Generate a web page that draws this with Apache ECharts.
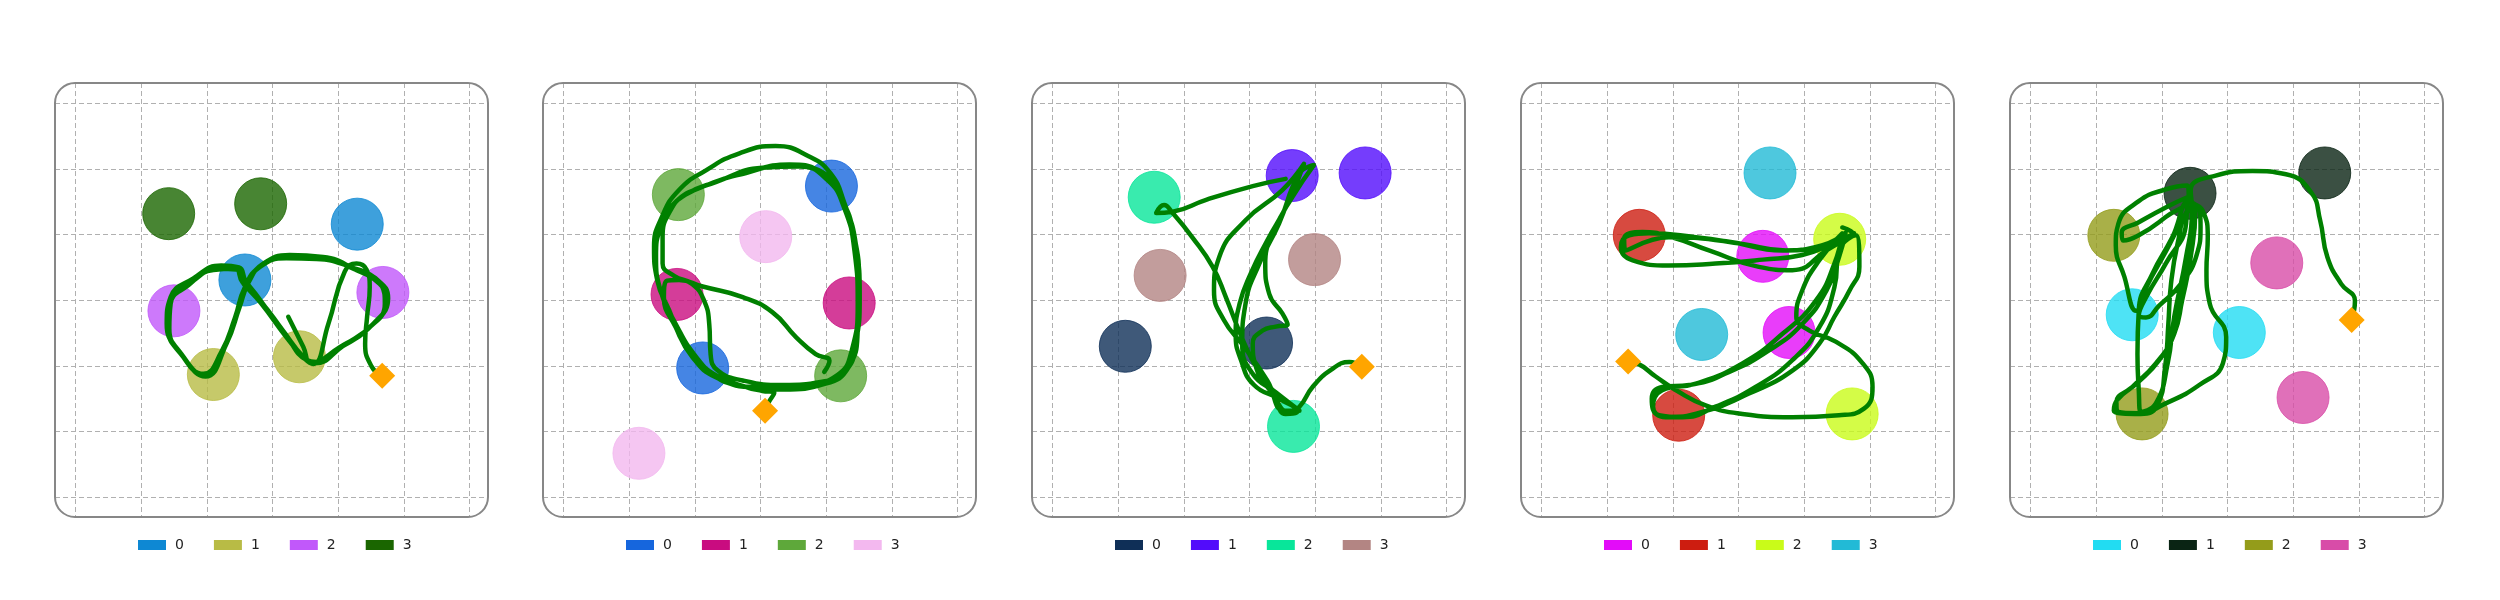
<!DOCTYPE html>
<html>
<head>
<meta charset="utf-8">
<script src="https://cdn.jsdelivr.net/npm/echarts@6/dist/echarts.min.js"></script>
<style>
  html, body { margin: 0; padding: 0; background: #fff; }
  #main { width: 2500px; height: 600px; }
</style>
</head>
<body>
<div id="main"></div>
<script>
var categories = ['0', '1', '2', '3'];

// colours of the four groups in each panel
var colors1 = ['#0e88d3', '#b8bb45', '#c158fa', '#1a6600'];
var colors2 = ['#1666dd', '#c90c80', '#5ea83a', '#f3b8ef'];
var colors3 = ['#0f2f57', '#520cfb', '#08e69a', '#b38583'];
var colors4 = ['#e30cf9', '#cd1d10', '#c9fb19', '#22bad6'];
var colors5 = ['#22dcf2', '#0a2414', '#949c1a', '#d84ca8'];

// two circles per group, in grid units
var circles1 = [
  [[4.29, 4.16], [2.58, 3.31]],
  [[2.10, 1.87], [3.41, 2.14]],
  [[1.50, 2.84], [4.68, 3.12]],
  [[1.42, 4.32], [2.82, 4.47]]
];
var circles2 = [
  [[4.08, 4.74], [2.12, 1.97]],
  [[1.73, 3.09], [4.35, 2.96]],
  [[1.75, 4.61], [4.22, 1.85]],
  [[3.08, 3.97], [1.15, 0.67]]
];
var circles3 = [
  [[1.11, 2.30], [3.26, 2.35]],
  [[3.65, 4.90], [4.76, 4.94]],
  [[1.55, 4.57], [3.67, 1.08]],
  [[1.64, 3.38], [3.99, 3.62]]
];
var circles4 = [
  [[3.37, 3.67], [3.77, 2.51]],
  [[1.49, 3.99], [2.09, 1.25]],
  [[4.54, 3.93], [4.73, 1.27]],
  [[3.48, 4.94], [2.44, 2.48]]
];
var circles5 = [
  [[1.55, 2.78], [3.18, 2.51]],
  [[2.43, 4.63], [4.48, 4.94]],
  [[1.27, 3.99], [1.70, 1.27]],
  [[3.75, 3.57], [4.15, 1.52]]
];

// trajectories, last point = diamond
var path1 = [
  [3.24, 2.75], [3.47, 2.29], [3.59, 2.05],
  [4.03, 2.29], [4.48, 2.59], [4.74, 3.00], [4.63, 3.25], [4.23, 3.48], [3.72, 3.65], [3.24, 3.67],
  [2.83, 3.53], [2.61, 3.25], [2.48, 2.85], [2.27, 2.29], [1.97, 1.86], [1.64, 2.14], [1.41, 2.59],
  [1.46, 3.00], [1.77, 3.28], [2.17, 3.48], [2.45, 3.47], [2.56, 3.25], [2.81, 3.00], [3.16, 2.54],
  [3.47, 2.14], [3.64, 2.04],
  [4.08, 2.31], [4.53, 2.64], [4.76, 3.03], [4.61, 3.30], [4.18, 3.51], [3.67, 3.63], [3.21, 3.64],
  [2.81, 3.51], [2.58, 3.20], [2.43, 2.74], [2.22, 2.21], [1.95, 1.88], [1.59, 2.21], [1.39, 2.64],
  [1.45, 3.05], [1.79, 3.33], [2.22, 3.53], [2.49, 3.50], [2.59, 3.30], [2.78, 3.05], [3.19, 2.49],
  [3.52, 2.09], [3.67, 2.06],
  [4.00, 2.26], [4.46, 2.57], [4.71, 2.95], [4.66, 3.23], [4.28, 3.46], [3.77, 3.66], [3.26, 3.69],
  [2.86, 3.56], [2.64, 3.28], [2.50, 2.90], [2.30, 2.34], [1.98, 1.84], [1.61, 2.19], [1.43, 2.57],
  [1.45, 2.95], [1.72, 3.23], [2.10, 3.46], [2.43, 3.48], [2.54, 3.28], [2.83, 2.95], [3.21, 2.44],
  [3.49, 2.11], [3.62, 2.03],
  [3.85, 2.64], [4.10, 3.44], [4.28, 3.56], [4.43, 3.47], [4.48, 3.20], [4.44, 2.75], [4.41, 2.34],
  [4.51, 1.99], [4.67, 1.85]
];
var path2 = [
  [3.97, 1.91], [4.05, 2.08], [3.84, 2.18], [3.54, 2.44], [3.18, 2.82], [2.73, 3.05], [2.12, 3.21],
  [1.76, 3.31], [1.58, 3.30], [1.53, 3.05], [1.71, 2.59], [1.96, 2.14], [2.32, 1.83], [2.93, 1.68],
  [3.64, 1.71], [4.17, 1.86], [4.39, 2.24], [4.48, 2.95], [4.43, 3.76], [4.27, 4.42], [4.02, 4.83],
  [3.59, 5.04], [3.03, 5.02], [2.32, 4.80], [1.86, 4.61], [1.63, 4.37], [1.51, 3.96], [1.51, 3.56],
  [1.69, 3.37], [1.96, 3.25], [2.14, 3.00], [2.22, 2.64], [2.24, 2.19], [2.35, 1.93], [2.73, 1.78],
  [3.34, 1.71], [3.94, 1.76], [4.30, 1.93], [4.45, 2.34], [4.51, 3.05], [4.45, 3.86], [4.27, 4.50],
  [4.07, 4.93], [3.74, 5.19], [3.23, 5.35], [2.68, 5.24], [2.17, 4.98], [1.76, 4.68], [1.50, 4.27],
  [1.38, 3.81], [1.43, 3.30], [1.61, 2.85], [1.86, 2.29], [2.17, 1.96], [2.62, 1.71],
  [3.34, 1.64], [3.99, 1.73], [4.34, 1.98], [4.48, 2.54], [4.50, 3.25], [4.43, 3.96], [4.22, 4.57],
  [3.89, 4.98], [3.44, 5.07], [2.78, 4.94], [2.12, 4.73], [1.71, 4.50], [1.48, 4.12], [1.41, 3.66],
  [1.48, 3.15], [1.71, 2.64], [2.02, 2.14], [2.32, 1.86], [2.78, 1.68], [3.03, 1.62], [3.21, 1.59],
  [3.12, 1.44], [3.07, 1.32]
];
var path3 = [
  [3.55, 4.85], [3.05, 4.74], [2.34, 4.53], [1.83, 4.35], [1.58, 4.33], [1.70, 4.45], [1.83, 4.33],
  [2.13, 3.96], [2.44, 3.51], [2.64, 3.05], [2.84, 2.54], [3.07, 2.04], [3.35, 1.63], [3.55, 1.27],
  [3.73, 1.31], [3.45, 1.50], [3.07, 1.71], [2.87, 2.09], [2.79, 2.49], [2.85, 2.95], [3.02, 3.41],
  [3.27, 3.91], [3.58, 4.47], [3.83, 5.08], [3.50, 4.68], [2.94, 4.22], [2.54, 3.66], [2.46, 3.15],
  [2.61, 2.70], [2.92, 2.29], [3.27, 1.78], [3.53, 1.32], [3.76, 1.32], [3.40, 1.60], [3.05, 1.88],
  [2.89, 2.34], [2.94, 2.95], [3.15, 3.56], [3.45, 4.17], [3.76, 4.93], [3.98, 5.06], [3.65, 4.57],
  [3.38, 4.07], [3.24, 3.56], [3.30, 3.10], [3.50, 2.80], [3.58, 2.63], [3.40, 2.60], [3.20, 2.54],
  [3.05, 2.34], [3.10, 1.98], [3.35, 1.58], [3.60, 1.30], [3.76, 1.38], [3.96, 1.68], [4.24, 1.94],
  [4.52, 2.06], [4.71, 1.99]
];
var path4 = [
  [4.58, 4.11], [4.74, 4.02], [4.38, 3.86], [3.72, 3.76], [3.06, 3.86], [2.35, 3.96], [1.64, 4.02],
  [1.34, 3.99], [1.21, 3.81], [1.39, 3.61], [1.94, 3.53], [2.65, 3.56], [3.37, 3.62], [3.97, 3.69],
  [4.43, 3.86], [4.76, 4.02], [4.34, 3.76], [3.82, 3.46], [3.31, 3.51], [2.55, 3.76], [1.99, 3.96],
  [1.54, 4.04], [1.26, 3.94], [1.28, 3.76], [1.94, 3.96], [2.81, 3.90], [3.67, 3.76], [4.28, 3.84],
  [4.63, 4.03], [4.53, 3.66], [4.34, 3.15], [3.97, 2.64], [3.47, 2.24], [2.86, 1.91], [2.25, 1.71],
  [1.84, 1.68], [1.68, 1.50], [1.79, 1.25], [2.15, 1.22], [2.65, 1.38], [3.26, 1.68], [3.82, 2.09],
  [4.23, 2.59], [4.46, 3.20], [4.53, 3.76], [4.79, 3.99], [4.84, 3.51], [4.69, 3.15], [4.46, 2.75],
  [4.23, 2.34], [3.82, 1.93], [3.16, 1.58], [2.45, 1.30], [1.89, 1.22], [1.70, 1.38], [1.84, 1.63],
  [2.35, 1.73], [3.06, 2.04], [3.67, 2.49], [4.18, 3.00], [4.46, 3.56], [4.58, 4.02], [4.23, 3.61],
  [3.97, 3.15], [3.88, 2.75], [4.08, 2.54], [4.48, 2.37], [4.89, 2.04], [5.04, 1.68], [4.91, 1.35],
  [4.53, 1.25], [3.82, 1.22], [3.06, 1.27], [2.50, 1.40], [2.05, 1.63], [1.74, 1.84], [1.46, 2.04],
  [1.32, 2.07]
];
var path5 = [
  [2.47, 4.47], [2.62, 4.37], [2.70, 3.96], [2.68, 3.46], [2.73, 2.95], [2.98, 2.44], [2.93, 2.04],
  [2.57, 1.71], [2.06, 1.43], [1.65, 1.28], [1.34, 1.30], [1.31, 1.45], [1.55, 1.68], [1.91, 2.04],
  [2.16, 2.44], [2.26, 2.95], [2.34, 3.46], [2.46, 4.07], [2.49, 4.47], [2.34, 4.27], [2.06, 3.74],
  [1.78, 3.23], [1.61, 2.84], [1.43, 3.36], [1.30, 3.84], [1.34, 4.17], [1.65, 4.51], [2.06, 4.69],
  [2.39, 4.75], [2.41, 4.57], [2.06, 4.27], [1.65, 3.99], [1.41, 3.91], [1.39, 4.03], [1.65, 4.19],
  [2.09, 4.43], [2.39, 4.57], [2.37, 4.17], [2.06, 3.56], [1.78, 3.08], [1.65, 2.77], [1.76, 2.74],
  [1.96, 2.92], [2.29, 3.25], [2.53, 3.69], [2.59, 4.12], [2.53, 4.42], [2.39, 4.37], [2.24, 3.86],
  [2.14, 3.25], [2.10, 2.64], [2.05, 1.98], [1.93, 1.40], [1.68, 1.27], [1.27, 1.32], [1.32, 1.48],
  [1.65, 1.76], [1.96, 2.09], [2.19, 2.49], [2.31, 3.00], [2.44, 3.66], [2.51, 4.37], [2.42, 4.52],
  [2.16, 3.96], [1.86, 3.41], [1.65, 2.85], [1.63, 2.18], [1.65, 1.63], [1.68, 1.30], [1.91, 1.43],
  [2.09, 2.04], [2.19, 2.75], [2.37, 3.66], [2.46, 4.37], [2.44, 4.68], [2.82, 4.90], [3.38, 4.97],
  [3.89, 4.92], [4.27, 4.65], [4.41, 4.22], [4.52, 3.66], [4.73, 3.25], [4.94, 2.99], [4.89, 2.70]
];

var panelColors = [colors1, colors2, colors3, colors4, colors5];
var panelCircles = [circles1, circles2, circles3, circles4, circles5];
var panelPaths = [path1, path2, path3, path4, path5];
var panelLeft = [55, 543, 1032, 1521, 2010];
var panelTop = 83, panelW = 433, panelH = 434;

var chart = echarts.init(document.getElementById('main'));

var grids = [], xAxes = [], yAxes = [], legends = [], series = [], graphics = [];

var splitStyle = { show: true, showMinLine: false, showMaxLine: false,
  lineStyle: { color: '#b0b0b0', type: [5, 3], width: 1 } };

for (var i = 0; i < 5; i++) {
  grids.push({ left: panelLeft[i], top: panelTop, width: panelW, height: panelH });
  xAxes.push({
    type: 'value', gridIndex: i, min: -0.31, max: 6.28, splitNumber: 6,
    axisLine: { show: false }, axisTick: { show: false }, axisLabel: { show: false },
    splitLine: splitStyle
  });
  yAxes.push({
    type: 'value', gridIndex: i, min: -0.30, max: 6.31, splitNumber: 6,
    axisLine: { show: false }, axisTick: { show: false }, axisLabel: { show: false },
    splitLine: splitStyle
  });

  var names = [];
  for (var k = 0; k < categories.length; k++) {
    var nm = 'p' + i + '_' + categories[k];
    names.push(nm);
    var c = panelColors[i][k];
    series.push({
      name: nm,
      type: 'scatter',
      xAxisIndex: i, yAxisIndex: i,
      symbol: 'circle',
      symbolSize: 52,
      itemStyle: { color: c, opacity: 0.8, borderColor: c, borderWidth: 1 },
      data: panelCircles[i][k],
      z: 2
    });
  }

  var p = panelPaths[i];
  series.push({
    type: 'line',
    xAxisIndex: i, yAxisIndex: i,
    data: p,
    showSymbol: false,
    smooth: 0.5,
    lineStyle: { color: '#008000', width: 4.5, cap: 'round', join: 'round' },
    z: 3,
    silent: true
  });
  series.push({
    type: 'scatter',
    xAxisIndex: i, yAxisIndex: i,
    symbol: 'diamond',
    symbolSize: 26,
    itemStyle: { color: '#ffa500', opacity: 1 },
    data: [p[p.length - 1]],
    z: 4
  });

  legends.push({
    data: names,
    left: panelLeft[i] + 78,
    top: 533,
    icon: 'rect',
    itemWidth: 28,
    itemHeight: 10,
    itemGap: 30,
    selectedMode: false,
    itemStyle: { opacity: 1, borderWidth: 0 },
    formatter: function (n) { return n.split('_')[1]; },
    textStyle: { fontFamily: 'DejaVu Sans', fontSize: 14, color: '#222', padding: [0, 0, 0, 4] }
  });

  graphics.push({
    type: 'rect',
    shape: { x: panelLeft[i], y: panelTop, width: panelW, height: panelH, r: 20 },
    style: { fill: null, stroke: '#878787', lineWidth: 2 },
    z: 10,
    silent: true
  });
}

chart.setOption({
  animation: false,
  backgroundColor: '#fff',
  grid: grids,
  xAxis: xAxes,
  yAxis: yAxes,
  legend: legends,
  series: series,
  graphic: graphics
});
</script>
</body>
</html>
